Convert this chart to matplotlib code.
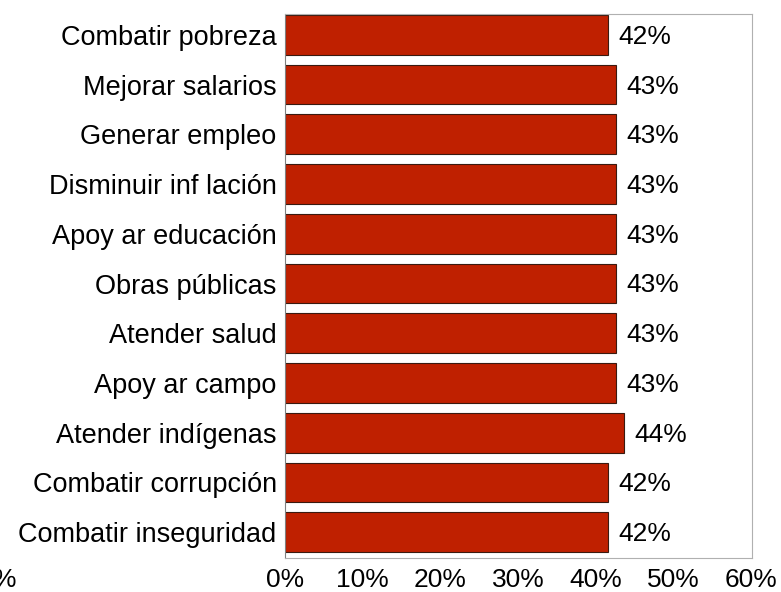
import matplotlib.pyplot as plt

plt.rcParams["font.family"] = ["Liberation Sans", "DejaVu Sans"]

# categories top to bottom, as in the picture
categories = [
    "Combatir pobreza",
    "Mejorar salarios",
    "Generar empleo",
    "Disminuir inf lación",
    "Apoy ar educación",
    "Obras públicas",
    "Atender salud",
    "Apoy ar campo",
    "Atender indígenas",
    "Combatir corrupción",
    "Combatir inseguridad",
]
values = [41.6, 42.6, 42.6, 42.6, 42.6, 42.6, 42.6, 42.6, 43.6, 41.6, 41.6]
x_ticks = [0, 10, 20, 30, 40, 50, 60]
x_tick_labels = [f"{t}%" for t in x_ticks]

fig = plt.figure(figsize=(7.81, 5.92), dpi=100)
ax = fig.add_axes([0.3649, 0.0574, 0.598, 0.919])

positions = list(range(len(categories)))
ax.barh(positions, values, height=0.8, color="#BF2000",
        edgecolor="#3a1a10", linewidth=0.8)

for pos, v in zip(positions, values):
    ax.text(v + 1.3, pos + 0.04, f"{v:.0f}%", ha="left", va="center", fontsize=19)

ax.set_xlim(0, 60.1)
ax.set_ylim(10.52, -0.42)

ax.set_yticks(positions)
ax.set_yticklabels(categories, fontsize=19.5)
ax.set_xticks(x_ticks)
ax.set_xticklabels(x_tick_labels, fontsize=19)
ax.tick_params(axis="both", length=0)
ax.tick_params(axis="y", pad=6)
ax.tick_params(axis="x", pad=7)

for side in ["top", "right", "bottom"]:
    ax.spines[side].set_color("#b0b0b0")
ax.spines["left"].set_color("#808080")

# stray, partly cut-off label at the lower left of the original
fig.text(17 / 781, 1 - 580 / 592, "%", ha="right", va="center", fontsize=19)

plt.savefig("out.png", dpi=100)
